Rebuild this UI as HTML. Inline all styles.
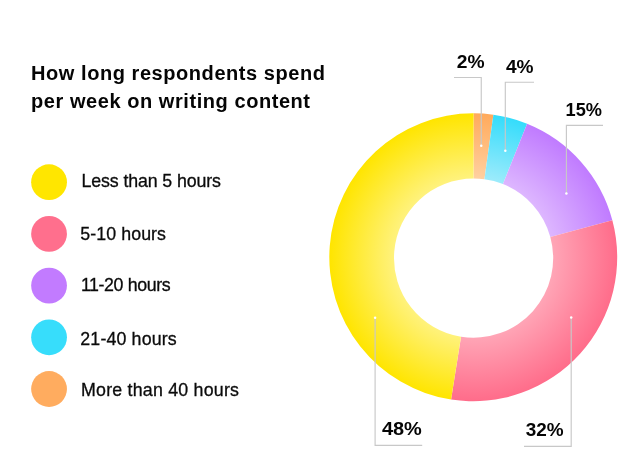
<!DOCTYPE html>
<html lang="en">
<head>
<meta charset="utf-8">
<title>How long respondents spend per week on writing content</title>
<style>
html,body{margin:0;padding:0;background:#fff;}
body{width:640px;height:475px;overflow:hidden;position:relative;font-family:"Liberation Sans",sans-serif;}
svg{position:absolute;left:0;top:0;display:block;}
text{font-family:"Liberation Sans",sans-serif;}
.ttl{font-size:20px;font-weight:700;fill:#050505;letter-spacing:0.56px;}
.lg{font-size:17.8px;fill:#0b0b0b;stroke:#0b0b0b;stroke-width:0.3px;}
.pl{font-size:18.9px;font-weight:700;fill:#050505;}
</style>
</head>
<body>
<svg width="640" height="475" viewBox="0 0 640 475">
<defs>
<radialGradient id="g-orange" gradientUnits="userSpaceOnUse" cx="473.55" cy="257.6" r="143.8"><stop offset="0.554" stop-color="#FFD0A0"/><stop offset="1" stop-color="#FFAA5C"/></radialGradient>
<radialGradient id="g-cyan" gradientUnits="userSpaceOnUse" cx="473.55" cy="257.6" r="143.8"><stop offset="0.554" stop-color="#9CEBFB"/><stop offset="1" stop-color="#35DCFB"/></radialGradient>
<radialGradient id="g-purple" gradientUnits="userSpaceOnUse" cx="473.55" cy="257.6" r="143.8"><stop offset="0.554" stop-color="#DDB6FF"/><stop offset="1" stop-color="#C07BFF"/></radialGradient>
<radialGradient id="g-pink" gradientUnits="userSpaceOnUse" cx="473.55" cy="257.6" r="143.8"><stop offset="0.554" stop-color="#FFA5B6"/><stop offset="1" stop-color="#FF6C8A"/></radialGradient>
<radialGradient id="g-yellow" gradientUnits="userSpaceOnUse" cx="473.55" cy="257.6" r="143.8"><stop offset="0.554" stop-color="#FFF27C"/><stop offset="1" stop-color="#FFE500"/></radialGradient>
</defs>
<text x="31" y="80.2" class="ttl">How long respondents spend</text>
<text x="31" y="108" class="ttl">per week on writing content</text>
<circle cx="49.05" cy="182.2" r="17.9" fill="#FFE600"/>
<text x="81.45" y="186.9" textLength="139.55" lengthAdjust="spacing" class="lg">Less than 5 hours</text>
<circle cx="49.05" cy="233.9" r="17.9" fill="#FF6F8D"/>
<text x="80.30" y="240.2" textLength="85.70" lengthAdjust="spacing" class="lg">5-10 hours</text>
<circle cx="49.05" cy="285.6" r="17.9" fill="#C27BFF"/>
<text x="80.90" y="291.0" textLength="89.70" lengthAdjust="spacing" class="lg">11-20 hours</text>
<circle cx="49.05" cy="337.3" r="17.9" fill="#37DDFB"/>
<text x="80.30" y="345.2" textLength="96.40" lengthAdjust="spacing" class="lg">21-40 hours</text>
<circle cx="49.05" cy="389.0" r="17.9" fill="#FFAC5F"/>
<text x="81.10" y="395.7" textLength="157.80" lengthAdjust="spacing" class="lg">More than 40 hours</text>
<path d="M473.55 113.30A143.95 143.95 0 0 1 493.38 114.71L484.42 179.24A79.6 79.6 0 0 0 473.55 178.50Z" fill="url(#g-orange)"/>
<path d="M493.38 114.71A143.95 143.95 0 0 1 527.09 123.75L502.95 184.11A79.6 79.6 0 0 0 484.42 179.24Z" fill="url(#g-cyan)"/>
<path d="M527.09 123.75A143.95 143.95 0 0 1 612.34 220.15L550.32 236.89A79.6 79.6 0 0 0 502.95 184.11Z" fill="url(#g-purple)"/>
<path d="M612.34 220.15A143.95 143.95 0 0 1 451.08 399.48L461.02 336.70A79.6 79.6 0 0 0 550.32 236.89Z" fill="url(#g-pink)"/>
<path d="M451.08 399.48A143.95 143.95 0 0 1 473.55 113.30L473.55 178.50A79.6 79.6 0 0 0 461.02 336.70Z" fill="url(#g-yellow)"/>
<path d="M481.25 145.8V77.5H454.0" fill="none" stroke="#c8c8c8" stroke-width="1.15"/>
<circle cx="481.25" cy="145.8" r="1.25" fill="#fff"/>
<path d="M505.3 150.7V82.2H534.0" fill="none" stroke="#c8c8c8" stroke-width="1.15"/>
<circle cx="505.3" cy="150.7" r="1.25" fill="#fff"/>
<path d="M566.4 193.5V125.3H603.0" fill="none" stroke="#c8c8c8" stroke-width="1.15"/>
<circle cx="566.4" cy="193.5" r="1.25" fill="#fff"/>
<path d="M375.1 317.8V445.4H422.2" fill="none" stroke="#c8c8c8" stroke-width="1.15"/>
<circle cx="375.1" cy="317.8" r="1.25" fill="#fff"/>
<path d="M571.2 317.6V446.3H524.0" fill="none" stroke="#c8c8c8" stroke-width="1.15"/>
<circle cx="571.2" cy="317.6" r="1.25" fill="#fff"/>
<text x="456.70" y="68.1" textLength="27.80" lengthAdjust="spacingAndGlyphs" class="pl">2%</text>
<text x="505.90" y="73.0" textLength="27.60" lengthAdjust="spacingAndGlyphs" class="pl">4%</text>
<text x="565.60" y="115.8" textLength="36.40" lengthAdjust="spacingAndGlyphs" class="pl">15%</text>
<text x="381.90" y="434.9" textLength="39.90" lengthAdjust="spacingAndGlyphs" class="pl">48%</text>
<text x="525.80" y="435.9" textLength="37.90" lengthAdjust="spacingAndGlyphs" class="pl">32%</text>
</svg>
</body>
</html>
